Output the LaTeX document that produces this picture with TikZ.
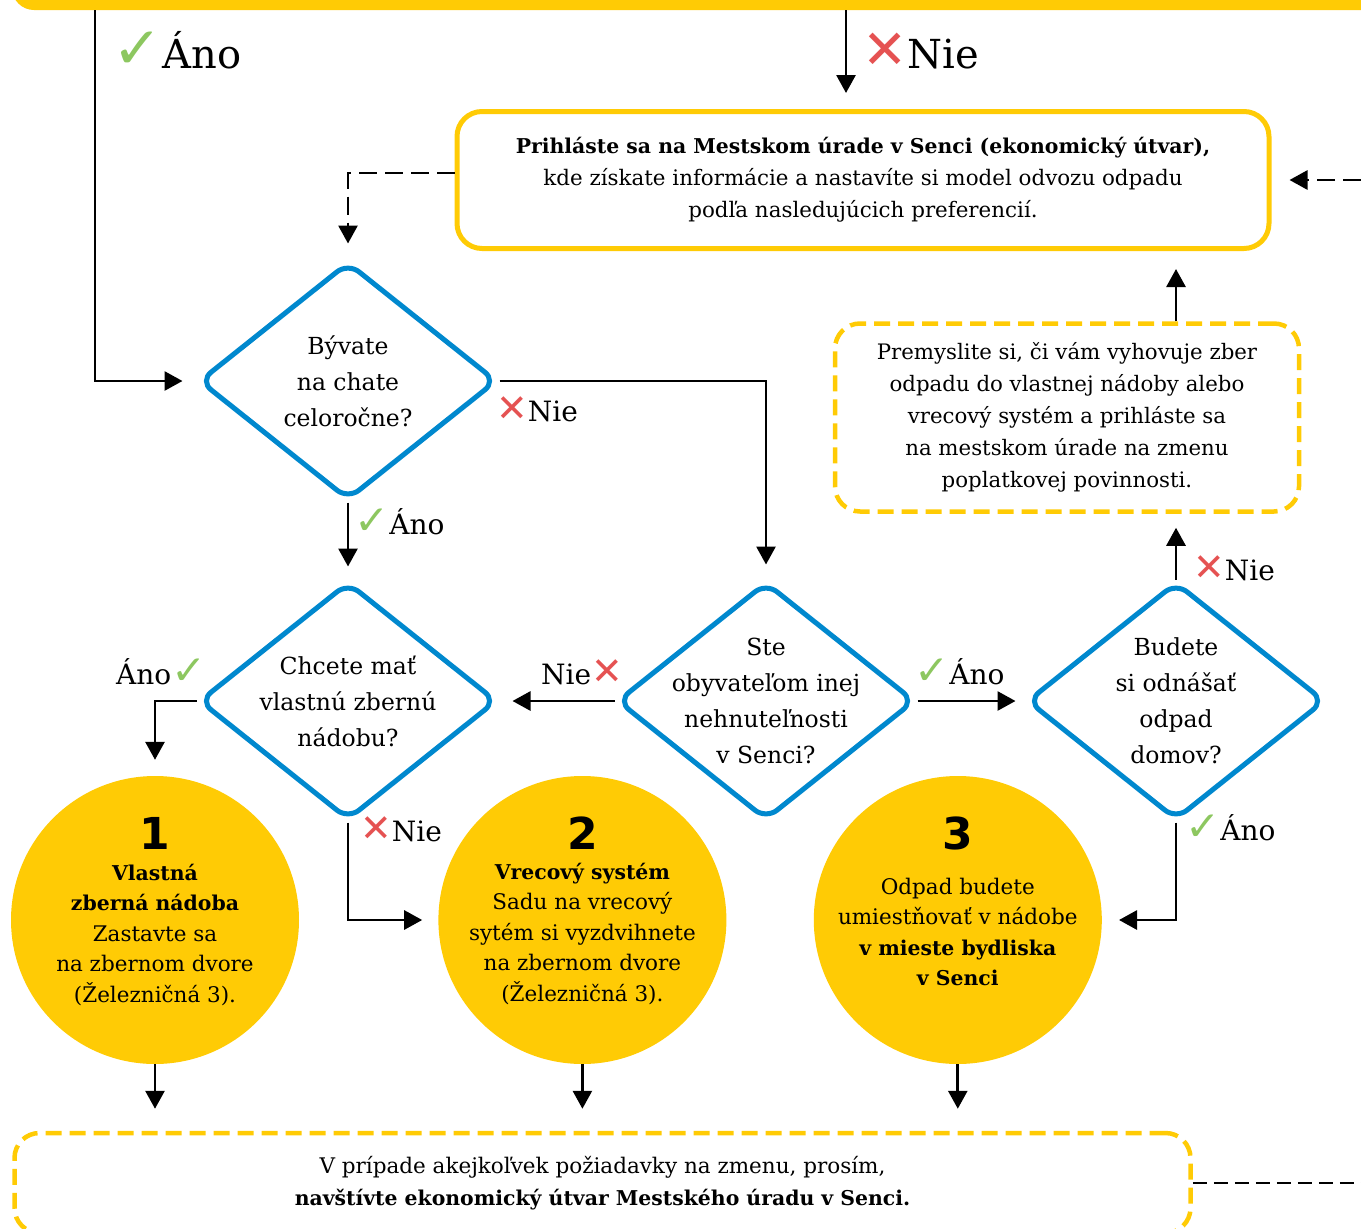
\documentclass[tikz,border=0pt]{standalone}
\usepackage{fontspec}
\setmainfont{DejaVu Serif}
\newfontfamily\symb{DejaVu Sans}
\usepackage{tikz}
\usetikzlibrary{shapes,arrows.meta,positioning}
\definecolor{gold}{RGB}{255, 203, 5}
\definecolor{blue}{RGB}{0, 136, 206}
\definecolor{green}{RGB}{141, 199, 96}
\definecolor{red}{RGB}{229, 82, 82}
\newcommand{\markyes}{{\symb\color{green}\scalebox{1.5}[1.45]{✓}}}
\newcommand{\markno}{{\symb\color{red}\scalebox{1.35}{✕}}}
\newcommand{\heavy}[1]{{\fontsize{20.4}{30}\selectfont\bfseries #1}}
\tikzstyle{decision} = [diamond, draw=blue, line width=5pt, rounded corners=14pt, minimum width=298pt, minimum height=238pt, inner sep=-45pt, text=black, align=center, font=\fontsize{23.5}{36}\selectfont]
\tikzstyle{result} = [circle, fill=gold, minimum size=288pt, inner sep=0pt]
\tikzstyle{restext} = [align=center, inner sep=0pt, font=\fontsize{21.5}{30.5}\selectfont]
\tikzstyle{num} = [inner sep=0pt, font=\symb\bfseries\fontsize{44}{44}\selectfont]
\tikzstyle{infobox} = [rectangle, draw=gold, line width=5pt, rounded corners=25pt, align=center, font=\fontsize{21.4}{32}\selectfont]
\tikzstyle{notebox} = [infobox, line width=4.5pt, dash pattern=on 16pt off 8pt]
\tikzstyle{topbar} = [rectangle, fill=gold, rounded corners=22pt, minimum width=1376pt, minimum height=80pt]
\tikzstyle{tedge} = [draw, line width=2.8pt, -{Triangle[length=18pt,width=19pt]}]
\tikzstyle{dedge} = [tedge, dash pattern=on 18pt off 8pt]
\tikzstyle{dline} = [draw, line width=2.8pt, dash pattern=on 14pt off 7pt]
\tikzstyle{lbl} = [anchor=base west, inner sep=0pt, font=\fontsize{28}{28}\selectfont]
\tikzstyle{biglbl} = [lbl, font=\fontsize{40}{40}\selectfont]

\begin{document}
\begin{tikzpicture}[x=1pt, y=-1pt]
\clip (0,0) rectangle (1361,1229);

% boxes =============================

\node[topbar] (top) at (700,-30) {};
\node[infobox, minimum width=812pt, minimum height=137pt] (prihlaste) at (863,180)
  {\heavy{Prihláste sa na Mestskom úrade v Senci (ekonomický útvar),}\\
   kde získate informácie a nastavíte si model odvozu odpadu\\
   podľa nasledujúcich preferencií.};
\node[notebox, minimum width=464pt, minimum height=188pt, font=\fontsize{21.3}{32}\selectfont] (premysl) at (1067,417.5)
  {Premyslite si, či vám vyhovuje zber\\
   odpadu do vlastnej nádoby alebo\\
   vrecový systém a prihláste sa\\
   na mestskom úrade na zmenu\\
   poplatkovej povinnosti.};
\node[notebox, minimum width=1176pt, minimum height=100pt, font=\fontsize{21.5}{32}\selectfont] (zmena) at (602.5,1183)
  {V prípade akejkoľvek požiadavky na zmenu, prosím,\\
   \heavy{navštívte ekonomický útvar Mestského úradu v Senci.}};

% decisions
\node[decision] (chata) at (348,381) {Bývate\\ na chate\\ celoročne?};
\node[decision, below=77pt of chata] (nadoba) {Chcete mať\\ vlastnú zbernú\\ nádobu?};
\node[decision, right=115pt of nadoba] (ine) {Ste\\ obyvateľom inej\\ nehnuteľnosti\\ v Senci?};
\node[decision, right=107pt of ine] (domov) {Budete\\ si odnášať\\ odpad\\ domov?};

% results
\node[result] (c1) at (155,920) {};
\node[result, right=139pt of c1] (c2) {};
\node[result, right=87pt of c2] (c3) {};
\node[num] (n1) at ([yshift=87pt]c1.center) {1};
\node[num] (n2) at ([yshift=87pt]c2.center) {2};
\node[num] (n3) at ([yshift=87pt]c3.center) {3};
\node[restext] (t1) at ([yshift=-15pt]c1.center)
  {\heavy{Vlastná}\\ \heavy{zberná nádoba}\\ Zastavte sa\\ na zbernom dvore\\ (Železničná 3).};
\node[restext] (t2) at ([yshift=-14pt]c2.center)
  {\heavy{Vrecový systém}\\ Sadu na vrecový\\ sytém si vyzdvihnete\\ na zbernom dvore\\ (Železničná 3).};
\node[restext] (t3) at ([yshift=-12pt]c3.center)
  {Odpad budete\\ umiestňovať v nádobe\\ \heavy{v mieste bydliska}\\ \heavy{v Senci}};

% answers
\node[biglbl] (ano0) at (112,68) {\markyes Áno};
\node[biglbl] (nie0) at (862,68) {\markno Nie};
\node[lbl] (nie1) at (496,421) {\markno Nie};
\node[lbl] (ano1) at (354,534) {\markyes Áno};
\node[lbl] (ano2) at (116,684) {Áno\markyes};
\node[lbl] (nie2) at (541,684) {Nie\markno};
\node[lbl] (ano3) at (914,684) {\markyes Áno};
\node[lbl] (nie3) at (1193,580) {\markno Nie};
\node[lbl] (nie4) at (360,841) {\markno Nie};
\node[lbl] (ano4) at (1185,840) {\markyes Áno};

\coordinate (s1) at (95,10);
\coordinate (s2) at (846,10);
\coordinate (rin) at (1361,180);
\coordinate (rout) at (1361,1183);

%edges
\path[tedge, shorten >=14pt] (s1) |- (chata.west);
\path[tedge, shorten >=16pt] (s2) -- (s2 |- prihlaste.north);
\path[dedge, shorten >=16pt] ([yshift=7pt]prihlaste.west) -| (chata.north);
\path[dedge, shorten >=18pt] (rin) -- (prihlaste.east |- rin);

\path[tedge, shorten >=15pt] (chata.east) -| (ine.north);
\path[tedge, shorten >=13pt] (chata.south) -- (nadoba.north);
\path[tedge, shorten >=13pt] (ine.west) -- (nadoba.east);
\path[tedge, shorten >=9pt] (ine.east) -- (domov.west);
\path[tedge, shorten >=14pt] (domov.north) -- (domov.north |- premysl.south);
\path[tedge, shorten >=18pt] (domov.north |- premysl.north) -- (domov.north |- prihlaste.south);

\path[tedge, shorten >=16pt] (nadoba.west) -| (c1.north);
\path[tedge, shorten >=16pt] (nadoba.south) |- (c2.west);
\path[tedge, shorten >=17pt] (domov.south) |- (c3.east);

\path[tedge, shorten >=22pt] (c1.south) -- (c1.south |- zmena.north);
\path[tedge, shorten >=22pt] (c2.south) -- (c2.south |- zmena.north);
\path[tedge, shorten >=22pt] (c3.south) -- (c3.south |- zmena.north);
\path[dline] (zmena.east) -- (rout);

\end{tikzpicture}
\end{document}
